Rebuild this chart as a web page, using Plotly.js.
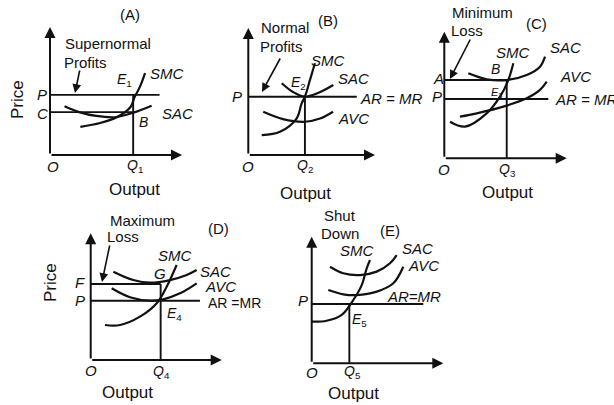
<!DOCTYPE html>
<html><head><meta charset="utf-8">
<script src="https://cdn.plot.ly/plotly-3.0.1.min.js"></script>
<style>html,body{margin:0;padding:0;background:#fff}#c{width:614px;height:405px}</style>
</head><body><div id="c"></div>
<script>
// ---------- data (axis units, 0..10 on each panel) ----------
// Panel A: supernormal profits
const A_SAC_x = [1.1, 2.2, 3.5, 4.9, 6.3, 7.7];
const A_SAC_y = [3.8, 3.35, 3.05, 2.95, 3.3, 3.85];
const A_SMC_x = [2.3, 3.8, 5.1, 6.1, 6.4, 6.8, 7.2];
const A_SMC_y = [2.2, 2.5, 2.97, 3.75, 4.5, 5.3, 6.4];
const A_levels = [4.7, 3.35];      // P, C
const A_levelEnds = [8.3, 6.3];
const A_Q = 6.3;
// Panel B: normal profits
const B_SAC_x = [2.64, 3.53, 4.47, 5.5, 6.71];
const B_SAC_y = [5.65, 4.96, 4.59, 4.88, 5.51];
const B_AVC_x = [1.18, 2.74, 4.47, 5.66, 6.69];
const B_AVC_y = [3.41, 2.83, 2.62, 2.87, 3.41];
const B_SMC_x = [1.06, 2.5, 3.82, 4.21, 4.47, 4.87, 5.26];
const B_SMC_y = [1.57, 1.83, 2.89, 4.07, 4.59, 5.91, 7.22];
const B_levels = [4.59];           // P
const B_levelEnds = [8.56];
const B_Q = 4.47;
// Panel C: minimum loss
const C_SAC_x = [1.96, 3.46, 5.1, 6.73, 7.82, 8.23];
const C_SAC_y = [6.71, 6.24, 6.18, 6.58, 7.24, 8.03];
const C_AVC_x = [1.28, 2.65, 4.82, 6.73, 7.82, 8.37];
const C_AVC_y = [3.29, 3.55, 4.08, 4.74, 5.4, 6.05];
const C_SMC_x = [0.47, 1.69, 3.46, 4.55, 5.23, 5.64];
const C_SMC_y = [2.89, 2.5, 3.55, 4.87, 6.18, 7.5];
const C_levels = [6.18, 4.68];     // A, P
const C_levelEnds = [5.1, 8.5];
const C_Q = 5.1;
// Panel D: maximum loss
const D_SAC_x = [1.73, 3.25, 4.53, 6.05, 7.33, 8.09];
const D_SAC_y = [6.97, 6.31, 6.1, 6.31, 6.71, 7.1];
const D_AVC_x = [1.6, 3.0, 4.53, 5.54, 6.82, 8.09];
const D_AVC_y = [5.66, 4.95, 4.68, 4.79, 5.26, 6.05];
const D_SMC_x = [1.09, 2.24, 3.76, 5.04, 5.8, 6.56];
const D_SMC_y = [2.76, 2.76, 3.42, 4.48, 5.79, 7.5];
const D_levels = [6.0, 4.68];      // F, P
const D_levelEnds = [5.34, 8.34];
const D_Q = 5.34;
// Panel E: shut down
const E_SAC_x = [1.39, 2.4, 3.67, 4.94, 5.95, 6.46];
const E_SAC_y = [7.63, 7.11, 6.97, 7.24, 7.9, 8.55];
const E_AVC_x = [1.26, 2.4, 3.42, 4.94, 6.2, 6.96];
const E_AVC_y = [5.79, 5.45, 5.39, 5.66, 6.32, 7.63];
const E_SMC_x = [0, 1.14, 2.28, 3.16, 3.8, 4.18, 4.43];
const E_SMC_y = [3.29, 3.36, 3.82, 5.0, 6.18, 7.5, 8.16];
const E_levels = [4.68];           // P
const E_levelEnds = [8.48];
const E_Q = 2.86;

// ---------- layout geometry (pixels) ----------
const W = 614, H = 405;
const panels = [
  {ox: 50, oy: 155, xt: 182, yt: 27},
  {ox: 248.3, oy: 155, xt: 375, yt: 28},
  {ox: 444.3, oy: 158.3, xt: 566.7, yt: 31.7},
  {ox: 90.7, oy: 360, xt: 221.7, yt: 233.3},
  {ox: 311.7, oy: 363.3, xt: 443.3, yt: 236.7}
];
const curveSets = [
  [[A_SAC_x, A_SAC_y], [A_SMC_x, A_SMC_y]],
  [[B_SAC_x, B_SAC_y], [B_AVC_x, B_AVC_y], [B_SMC_x, B_SMC_y]],
  [[C_SAC_x, C_SAC_y], [C_AVC_x, C_AVC_y], [C_SMC_x, C_SMC_y]],
  [[D_SAC_x, D_SAC_y], [D_AVC_x, D_AVC_y], [D_SMC_x, D_SMC_y]],
  [[E_SAC_x, E_SAC_y], [E_AVC_x, E_AVC_y], [E_SMC_x, E_SMC_y]]
];
const levelSets = [[A_levels, A_levelEnds], [B_levels, B_levelEnds], [C_levels, C_levelEnds], [D_levels, D_levelEnds], [E_levels, E_levelEnds]];
const qs = [A_Q, B_Q, C_Q, D_Q, E_Q];
const INK = '#111';
const FONT = 'Liberation Sans, Arial, sans-serif';

const traces = [];
const layout = {
  width: W, height: H, margin: {l: 0, r: 0, t: 0, b: 0},
  paper_bgcolor: '#fff', plot_bgcolor: 'rgba(0,0,0,0)',
  showlegend: false, annotations: [], font: {family: FONT, color: INK}
};

panels.forEach((p, i) => {
  const n = i === 0 ? '' : String(i + 1);
  const xa = 'x' + n, ya = 'y' + n;
  layout['xaxis' + n] = {domain: [p.ox / W, p.xt / W], range: [0, 10], visible: false, fixedrange: true, anchor: ya};
  layout['yaxis' + n] = {domain: [1 - p.oy / H, 1 - p.yt / H], range: [0, 10], visible: false, fixedrange: true, anchor: xa};
  curveSets[i].forEach(c => traces.push({
    x: c[0], y: c[1], xaxis: xa, yaxis: ya, mode: 'lines', cliponaxis: false,
    line: {color: INK, width: 2.2, shape: 'spline', smoothing: 1}, hoverinfo: 'skip'
  }));
  const [lv, le] = levelSets[i];
  lv.forEach((v, k) => traces.push({
    x: [0, le[k]], y: [v, v], xaxis: xa, yaxis: ya, mode: 'lines', cliponaxis: false,
    line: {color: INK, width: 1.9}, hoverinfo: 'skip'
  }));
  traces.push({
    x: [qs[i], qs[i]], y: [0, Math.max(...lv)], xaxis: xa, yaxis: ya, mode: 'lines', cliponaxis: false,
    line: {color: INK, width: 1.9}, hoverinfo: 'skip'
  });
  // axes with arrowheads
  [[10, 0], [0, 10]].forEach(t => layout.annotations.push({
    xref: xa, yref: ya, axref: xa, ayref: ya, x: t[0], y: t[1], ax: 0, ay: 0,
    text: '', showarrow: true, arrowhead: 2, arrowsize: 1.1, arrowwidth: 2, arrowcolor: INK
  }));
});

// ---------- text labels (pixel positions) ----------
function lab(x, y, text, size, opts) {
  layout.annotations.push(Object.assign({
    xref: 'paper', yref: 'paper', x: x / W, y: 1 - y / H, text: text, showarrow: false,
    xanchor: 'center', yanchor: 'middle', font: {family: FONT, size: size || 15, color: INK}
  }, opts || {}));
}
function pointer(hx, hy, tx, ty) {
  layout.annotations.push({
    xref: 'paper', yref: 'paper', x: hx / W, y: 1 - hy / H, ax: tx - hx, ay: ty - hy,
    text: '', showarrow: true, arrowhead: 2, arrowsize: 1.1, arrowwidth: 1.6, arrowcolor: INK
  });
}
const I = s => '<i>' + s + '</i>';
const sub = (s, k) => '<i>' + s + '</i><sub>' + k + '</sub>';

// Panel A
lab(130, 15, '(A)', 15);
lab(108, 43, 'Supernormal', 15);
lab(85, 62, 'Profits', 15);
pointer(75, 93, 80, 69);
lab(42, 95, I('P'), 15); lab(42, 113, I('C'), 15);
lab(124, 80, sub('E', '1'), 14);
lab(167, 73, I('SMC'), 15); lab(177, 113, I('SAC'), 15);
lab(143, 122, I('B'), 14);
lab(53, 166, I('O'), 15); lab(135, 166, sub('Q', '1'), 14);
lab(134, 189, 'Output', 17);
lab(17, 100, 'Price', 17, {textangle: -90});

// Panel B
lab(328, 20, '(B)', 15);
lab(285, 28, 'Normal', 15);
lab(281, 47, 'Profits', 15);
pointer(262, 92, 281, 57);
lab(237, 96, I('P'), 15);
lab(328, 60, I('SMC'), 15);
lab(298, 83, sub('E', '2'), 14);
lab(353, 78, I('SAC'), 15);
lab(358, 98, I('AR = MR'), 15, {xanchor: 'left'});
lab(336, 118, I('AVC'), 15, {xanchor: 'left'});
lab(248, 166, I('O'), 15); lab(305, 166, sub('Q', '2'), 14);
lab(305, 194, 'Output', 17);

// Panel C
lab(482, 12, 'Minimum', 15);
lab(467, 30, 'Loss', 15);
pointer(450, 79, 471, 38);
lab(536, 23, '(C)', 15);
lab(513, 52, I('SMC'), 15); lab(565, 48, I('SAC'), 15);
lab(495, 69, I('B'), 14);
lab(575, 77, I('AVC'), 15);
lab(438, 78, I('A'), 15); lab(437, 96, I('P'), 15);
lab(497, 93, sub('E', '3'), 11);
lab(553, 99, I('AR = MR'), 15, {xanchor: 'left'});
lab(444, 169, I('O'), 15); lab(507, 170, sub('Q', '3'), 14);
lab(507, 192, 'Output', 17);

// Panel D
lab(142, 220, 'Maximum', 15);
lab(123, 237, 'Loss', 15);
pointer(102, 282, 110, 244);
lab(218, 228, '(D)', 15);
lab(175, 255, I('SMC'), 15);
lab(160, 273, I('G'), 15);
lab(215, 271, I('SAC'), 15); lab(220, 286, I('AVC'), 15);
lab(206, 303, 'AR =MR', 14, {xanchor: 'left'});
lab(174, 314, sub('E', '4'), 14);
lab(80, 282, I('F'), 15); lab(80, 300, I('P'), 15);
lab(91, 370, I('O'), 15); lab(161, 372, sub('Q', '4'), 14);
lab(127, 392, 'Output', 17);
lab(50, 283, 'Price', 17, {textangle: -90});

// Panel E
lab(340, 215, 'Shut', 15);
lab(340, 233, 'Down', 15);
lab(390, 230, '(E)', 15);
lab(357, 250, I('SMC'), 15);
lab(417, 248, I('SAC'), 15); lab(423, 265, I('AVC'), 15);
lab(414, 296, I('AR=MR'), 15);
lab(303, 300, I('P'), 15);
lab(359, 320, sub('E', '5'), 14);
lab(312, 372, I('O'), 15); lab(352, 372, sub('Q', '5'), 14);
lab(353, 393, 'Output', 17);

Plotly.newPlot('c', traces, layout, {staticPlot: true, displayModeBar: false});
</script></body></html>
